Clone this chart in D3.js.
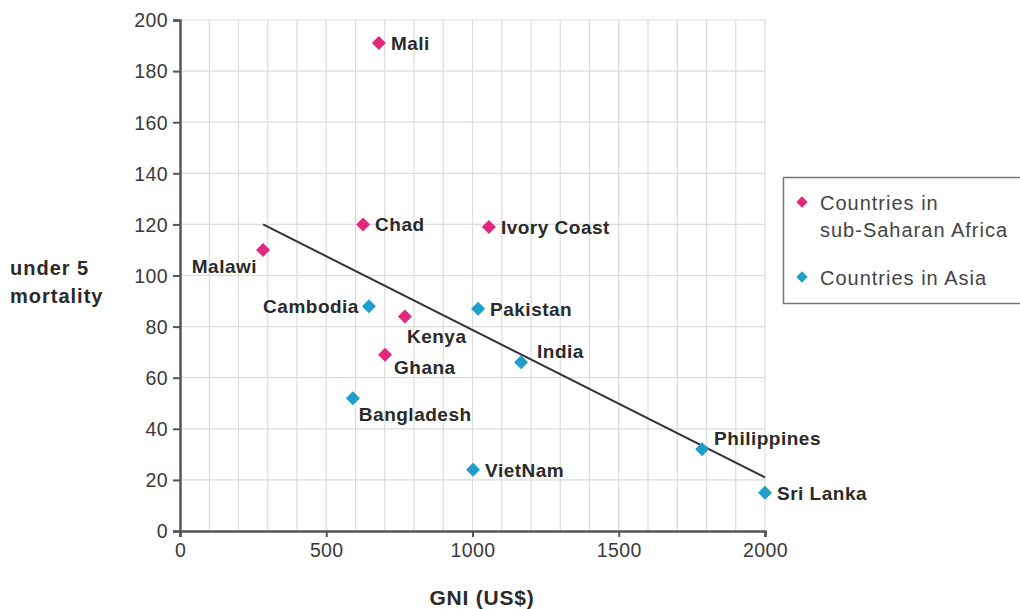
<!DOCTYPE html>
<html><head><meta charset="utf-8">
<script src="https://cdn.jsdelivr.net/npm/d3@7"></script>
<style>body{margin:0;background:#fff;} text{font-family:"Liberation Sans",Arial,sans-serif;}</style>
</head><body><svg id="c" width="1020" height="609"></svg>
<script>
const africaNames = ["Mali","Chad","Ivory Coast","Malawi","Kenya","Ghana"];
const africaGNI   = [680, 626, 1056, 284, 769, 701];
const africaU5    = [191, 120, 119, 110, 84, 69];
const asiaNames = ["Cambodia","Pakistan","India","Bangladesh","VietNam","Philippines","Sri Lanka"];
const asiaGNI   = [646, 1019, 1166, 591, 1002, 1785, 2000];
const asiaU5    = [88, 87, 66, 52, 24, 32, 15];
const trendGNI = [284, 2000];
const trendU5  = [120, 21];
const xTicks = [0, 500, 1000, 1500, 2000];
const yTicks = [0, 20, 40, 60, 80, 100, 120, 140, 160, 180, 200];
const legendLabels = [["Countries in","sub-Saharan Africa"],["Countries in Asia"]];
const pink = "#e2287d", blue = "#1f9dcb";

// label placement (anchor, dx, dy) keyed by name
const place = {
 "Mali":["start",12,7],"Chad":["start",12,7],"Ivory Coast":["start",12,7],
 "Malawi":["end",-6,23],"Kenya":["start",2,27],"Ghana":["start",9,19],
 "Cambodia":["end",-10,7],"Pakistan":["start",12,7],"India":["start",16,-4],
 "Bangladesh":["start",6,23],"VietNam":["start",12,7],"Philippines":["start",12,-4],"Sri Lanka":["start",12,7]
};

const svg = d3.select("#c");
const x = d3.scaleLinear().domain([0,2000]).range([180,765]);
const y = d3.scaleLinear().domain([0,200]).range([531,20]);

// grid
const g = svg.append("g");
g.selectAll("line.v").data(d3.range(100,2001,100)).enter().append("line")
 .attr("x1",d=>x(d)).attr("x2",d=>x(d)).attr("y1",y(0)).attr("y2",y(200))
 .attr("stroke","#dcdcdc").attr("stroke-width",1.2);
g.selectAll("line.h").data(yTicks.slice(1)).enter().append("line")
 .attr("x1",x(0)).attr("x2",x(2000)).attr("y1",d=>y(d)).attr("y2",d=>y(d))
 .attr("stroke","#dcdcdc").attr("stroke-width",1.2);

// axes
const xa = svg.append("g").attr("transform",`translate(0,${y(0)})`)
 .call(d3.axisBottom(x).tickValues(xTicks).tickSize(6).tickPadding(3).tickFormat(d3.format("d")));
const ya = svg.append("g").attr("transform",`translate(${x(0)},0)`)
 .call(d3.axisLeft(y).tickValues(yTicks).tickSize(7).tickPadding(5).tickFormat(d3.format("d")));
[xa,ya].forEach(a=>{
 a.select(".domain").attr("stroke","#555").attr("stroke-width",2.5);
 a.selectAll(".tick line").attr("stroke","#555").attr("stroke-width",2);
 a.selectAll(".tick text").attr("fill","#3a3a3a").style("font-size","19.5px")
  .style("letter-spacing","0.4px").style("font-family","Liberation Sans, Arial, sans-serif");
});
xa.selectAll(".tick text").attr("dy","0.85em");
ya.selectAll(".tick text").attr("dy","0.35em");

// trend line
svg.append("line").attr("x1",x(trendGNI[0])).attr("y1",y(trendU5[0]))
 .attr("x2",x(trendGNI[1])).attr("y2",y(trendU5[1]))
 .attr("stroke","#333").attr("stroke-width",2);

const diamond = d3.symbol().type(d3.symbolSquare).size(98);
function series(names,gx,gy,color){
 const data = names.map((n,i)=>({n,gx:gx[i],gy:gy[i]}));
 svg.append("g").selectAll("path").data(data).enter().append("path")
  .attr("d",diamond).attr("fill",color)
  .attr("transform",d=>`translate(${x(d.gx)},${y(d.gy)}) rotate(45)`);
 svg.append("g").selectAll("text").data(data).enter().append("text")
  .attr("x",d=>x(d.gx)+place[d.n][1]).attr("y",d=>y(d.gy)+place[d.n][2])
  .attr("text-anchor",d=>place[d.n][0])
  .attr("fill","#2a2a2a").style("font-size","19px").style("font-weight","bold")
  .style("letter-spacing","0.5px")
  .text(d=>d.n);
}
series(africaNames,africaGNI,africaU5,pink);
series(asiaNames,asiaGNI,asiaU5,blue);

// axis titles
svg.append("text").attr("x",482).attr("y",605).attr("text-anchor","middle")
 .attr("fill","#2a2a2a").style("font-size","21px").style("font-weight","bold")
 .style("letter-spacing","0.8px").text("GNI (US$)");
const yt = svg.append("text").attr("x",10).attr("y",275).attr("fill","#2a2a2a")
 .style("font-size","20px").style("font-weight","bold").style("letter-spacing","1px");
yt.append("tspan").attr("x",10).text("under 5");
yt.append("tspan").attr("x",10).attr("dy",28).text("mortality");

// legend
const lg = svg.append("g");
lg.append("rect").attr("x",783.5).attr("y",177.5).attr("width",240).attr("height",126)
 .attr("fill","#fff").attr("stroke","#777").attr("stroke-width",1.5);
const legColors = [pink, blue];
const legY = [203, 278];
legendLabels.forEach((lines,i)=>{
 lg.append("path").attr("d",d3.symbol().type(d3.symbolSquare).size(64))
  .attr("fill",legColors[i]).attr("transform",`translate(${802},${legY[i]-1}) rotate(45)`);
 const t = lg.append("text").attr("x",820).attr("y",legY[i]+7).attr("fill","#444")
  .style("font-size","20px").style("letter-spacing","1px");
 lines.forEach((l,j)=>t.append("tspan").attr("x",820).attr("dy",j?27:0).text(l));
});
</script></body></html>
